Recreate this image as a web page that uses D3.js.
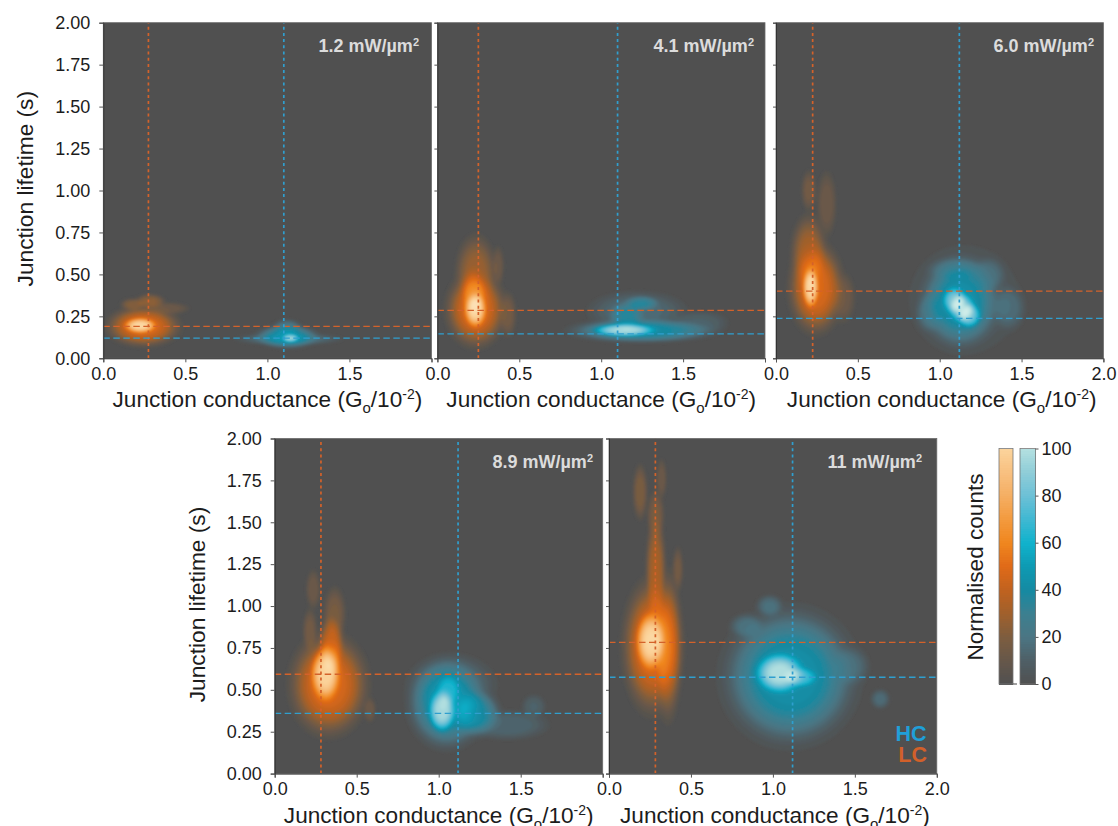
<!DOCTYPE html>
<html>
<head>
<meta charset="utf-8">
<script src="https://cdn.jsdelivr.net/npm/d3@7"></script>
<style>
  html, body { margin: 0; padding: 0; background: #fff; }
  svg { display: block; }
  text { font-family: "Liberation Sans", Arial, sans-serif; fill: #1c1c1c; }
</style>
</head>
<body>
<svg class="chart" width="1118" height="826"></svg>
<script>
// Power labels, one per panel
var powers = ['1.2', '4.1', '6.0', '8.9', '11'];

// Dashed guide lines: [conductance, lifetime]
var lcGuides = [[0.275, 0.19], [0.25, 0.286], [0.224, 0.40], [0.282, 0.593], [0.283, 0.783]];
var hcGuides = [[1.10, 0.12], [1.10, 0.146], [1.12, 0.238], [1.118, 0.36], [1.12, 0.575]];

// Density lobes: [conductance, lifetime, width, height, strength]
var lc1 = [[0.244, 0.19, 0.14, 0.075, 30], [0.225, 0.195, 0.065, 0.03, 76],
  [0.285, 0.338, 0.06, 0.03, 10], [0.18, 0.32, 0.05, 0.025, 8], [0.39, 0.297, 0.09, 0.025, 4]];
var hc1 = [[1.12, 0.13, 0.12, 0.045, 24], [1.14, 0.12, 0.035, 0.016, 60], [1.13, 0.115, 0.21, 0.025, 7],
  [1.12, 0.18, 0.06, 0.035, 9]];
var lc2 = [[0.235, 0.29, 0.115, 0.14, 30], [0.232, 0.288, 0.045, 0.07, 72], [0.235, 0.50, 0.08, 0.15, 13],
  [0.22, 0.39, 0.05, 0.10, 16], [0.37, 0.55, 0.025, 0.08, 4], [0.43, 0.26, 0.035, 0.09, 5]];
var hc2 = [[1.14, 0.168, 0.13, 0.025, 74], [1.25, 0.165, 0.28, 0.045, 23], [1.246, 0.327, 0.07, 0.03, 14],
  [1.155, 0.25, 0.07, 0.055, 14], [1.22, 0.28, 0.20, 0.08, 5], [1.6, 0.21, 0.12, 0.05, 3]];
var lc3 = [[0.245, 0.42, 0.105, 0.17, 30], [0.212, 0.42, 0.032, 0.08, 75], [0.20, 0.62, 0.07, 0.15, 15],
  [0.31, 0.92, 0.04, 0.13, 4], [0.20, 1.0, 0.03, 0.08, 5], [0.41, 0.36, 0.05, 0.10, 4]];
var hc3 = [[1.125, 0.335, 0.15, 0.17, 24], [1.09, 0.345, 0.05, 0.055, 50], [1.135, 0.30, 0.055, 0.06, 55],
  [1.18, 0.255, 0.05, 0.05, 50], [1.30, 0.50, 0.07, 0.07, 5], [1.42, 0.30, 0.07, 0.09, 5],
  [0.94, 0.27, 0.06, 0.08, 6], [1.10, 0.53, 0.12, 0.05, 6], [1.15, 0.35, 0.24, 0.23, 2]];
var lc4 = [[0.33, 0.53, 0.15, 0.19, 30], [0.31, 0.595, 0.06, 0.11, 72], [0.345, 0.76, 0.05, 0.12, 22],
  [0.365, 0.95, 0.045, 0.11, 6], [0.215, 0.85, 0.03, 0.09, 5], [0.235, 1.10, 0.03, 0.08, 4], [0.58, 0.38, 0.025, 0.05, 4]];
var hc4 = [[1.05, 0.42, 0.15, 0.17, 25], [1.22, 0.36, 0.10, 0.09, 20], [1.02, 0.375, 0.055, 0.085, 72],
  [1.06, 0.50, 0.05, 0.07, 20], [1.08, 0.53, 0.18, 0.12, 5], [1.42, 0.29, 0.17, 0.06, 4], [1.58, 0.40, 0.05, 0.05, 3]];
var lc5 = [[0.265, 0.76, 0.115, 0.25, 30], [0.36, 0.76, 0.055, 0.28, 18], [0.255, 0.79, 0.06, 0.115, 75],
  [0.285, 1.20, 0.04, 0.22, 16], [0.19, 1.68, 0.03, 0.11, 7], [0.285, 1.54, 0.035, 0.10, 6],
  [0.32, 1.76, 0.022, 0.08, 4], [0.42, 1.22, 0.022, 0.09, 5]];
var hc5 = [[1.105, 0.58, 0.25, 0.25, 24], [1.04, 0.60, 0.10, 0.08, 76], [1.17, 0.575, 0.07, 0.04, 32],
  [0.98, 1.0, 0.055, 0.045, 6], [0.84, 0.88, 0.07, 0.05, 6], [1.655, 0.445, 0.04, 0.04, 5],
  [1.47, 0.64, 0.08, 0.08, 5], [1.10, 0.58, 0.30, 0.29, 2]];
var lcLobes = [lc1, lc2, lc3, lc4, lc5];
var hcLobes = [hc1, hc2, hc3, hc4, hc5];

var xTicks = [0, 0.5, 1, 1.5, 2];
var yTicks = [0, 0.25, 0.5, 0.75, 1, 1.25, 1.5, 1.75, 2];
var barTicks = [0, 20, 40, 60, 80, 100];

// Colour ramps as seen on the colour bar, running past 100 for the white cores
var rampStops = [0, 10, 20, 30, 40, 50, 60, 70, 80, 90, 100, 125];
var lcRamp = ['#505050', '#66574a', '#7d5d3f', '#a0602c', '#c0621f', '#e06a18', '#f0861e', '#f39a3e', '#f5ae62', '#f8c080', '#fbd49c', '#fff8ea'];
var hcRamp = ['#505050', '#4f5f66', '#4b7583', '#3c7f90', '#158aa2', '#0e9ab3', '#10b2cc', '#3fb8d2', '#6cc0d6', '#8fcdd8', '#b4e0e0', '#f2fbf3'];

var lcColor = d3.scaleLinear().domain(rampStops).range(lcRamp).clamp(true);
var hcColor = d3.scaleLinear().domain(rampStops).range(hcRamp).clamp(true);

// Panel frames in pixels
var panels = [
  { left: 103.3, right: 431.5, top: 22.7, bottom: 358.3, labelRight: 419, yLabels: true, lastTick: false },
  { left: 437.4, right: 765, top: 22.7, bottom: 358.3, labelRight: 754, yLabels: false, lastTick: false },
  { left: 776, right: 1103.4, top: 22.7, bottom: 358.3, labelRight: 1094, yLabels: false, lastTick: true },
  { left: 274.7, right: 602.7, top: 438.5, bottom: 773.6, labelRight: 593, yLabels: true, lastTick: false },
  { left: 609, right: 936.8, top: 438.5, bottom: 773.6, labelRight: 922, yLabels: false, lastTick: true }
];

var chart = d3.select('.chart');
var defs = chart.append('defs');
defs.append('filter').attr('id', 'soft')
    .attr('x', '-5%').attr('y', '-5%').attr('width', '110%').attr('height', '110%')
  .append('feGaussianBlur').attr('stdDeviation', 1);

var gridX = 220, gridY = 224;
var levels = d3.range(3, 126, 3);

// Sum the lobes on a grid so d3.contours can trace the density. The power
// squeezes the sum so bodies come out as flat shoulders around a bright core.
function densityGrid(lobes) {
  var values = new Float64Array(gridX * gridY);
  for (var j = 0; j < gridY; j++) {
    var t = (j + 0.5) / gridY * 2;
    for (var i = 0; i < gridX; i++) {
      var g = (i + 0.5) / gridX * 2, sum = 0;
      lobes.forEach(function(l) {
        var a = (g - l[0]) / l[2], b = (t - l[1]) / l[3], r = a * a + b * b;
        sum += l[4] * Math.exp(-0.5 * r * r);
      });
      values[j * gridX + i] = 100 * Math.pow(sum / 100, 0.6);
    }
  }
  return values;
}

function drawDensity(group, lobes, color, x, y) {
  var path = d3.geoPath(d3.geoTransform({
    point: function(a, b) { this.stream.point(x(a / gridX * 2), y(b / gridY * 2)); }
  }));
  var contours = d3.contours().size([gridX, gridY]).thresholds(levels)(densityGrid(lobes));
  group.selectAll(null)
      .data(contours)
    .enter().append('path')
      .attr('d', path)
      .attr('fill', function(d) { return color(d.value); });
}

function conductanceTitle(sel) {
  sel.append('tspan').text('Junction conductance (G');
  sel.append('tspan').attr('dy', 6).attr('font-size', 15).text('o');
  sel.append('tspan').attr('dy', -6).text('/10');
  sel.append('tspan').attr('dy', -8).attr('font-size', 14).text('-2');
  sel.append('tspan').attr('dy', 8).text(')');
}

panels.forEach(function(p, n) {
  var x = d3.scaleLinear().domain([0, 2]).range([p.left, p.right]);
  var y = d3.scaleLinear().domain([0, 2]).range([p.bottom, p.top]);

  var panel = chart.append('g').attr('class', 'panel');

  defs.append('clipPath').attr('id', 'clip' + n)
    .append('rect')
      .attr('x', p.left).attr('y', p.top)
      .attr('width', p.right - p.left).attr('height', p.bottom - p.top);

  panel.append('rect')
      .attr('x', p.left).attr('y', p.top)
      .attr('width', p.right - p.left).attr('height', p.bottom - p.top)
      .attr('fill', '#505050');

  var blobs = panel.append('g').attr('clip-path', 'url(#clip' + n + ')')
    .append('g').attr('filter', 'url(#soft)');
  drawDensity(blobs.append('g'), hcLobes[n], hcColor, x, y);
  drawDensity(blobs.append('g'), lcLobes[n], lcColor, x, y);

  // Guides: short dashes up the page, long dashes across
  var guides = [{ g: lcGuides[n], c: '#d4622a' }, { g: hcGuides[n], c: '#2f9fcf' }];
  guides.forEach(function(d) {
    panel.append('line')
        .attr('x1', x(d.g[0])).attr('x2', x(d.g[0]))
        .attr('y1', y(0)).attr('y2', y(2))
        .attr('stroke', d.c).attr('stroke-width', 1.7).attr('stroke-dasharray', '3 3.2');
    panel.append('line')
        .attr('x1', x(0)).attr('x2', x(2))
        .attr('y1', y(d.g[1])).attr('y2', y(d.g[1]))
        .attr('stroke', d.c).attr('stroke-width', 1.3).attr('stroke-dasharray', '6.5 3.5');
  });

  panel.append('rect')
      .attr('x', p.left).attr('y', p.top)
      .attr('width', p.right - p.left).attr('height', p.bottom - p.top)
      .attr('fill', 'none').attr('stroke', '#6a6a6a').attr('stroke-width', 0.8);

  var xAxis = d3.axisBottom(x).tickValues(xTicks).tickSize(4).tickPadding(5)
      .tickFormat(function(d) { return d === 2 && !p.lastTick ? '' : d3.format('.1f')(d); });
  var yAxis = d3.axisLeft(y).tickValues(yTicks).tickSize(p.yLabels ? 4 : 3).tickPadding(9)
      .tickFormat(function(d) { return p.yLabels ? d3.format('.2f')(d) : ''; });

  var gx = panel.append('g').attr('transform', 'translate(0,' + p.bottom + ')').call(xAxis);
  var gy = panel.append('g').attr('transform', 'translate(' + p.left + ',0)').call(yAxis);
  [gx, gy].forEach(function(g) {
    g.selectAll('text').attr('font-size', 18);
    g.attr('font-family', null).attr('font-size', null);
    g.selectAll('line').attr('stroke', '#555');
    g.select('.domain').attr('stroke', '#333');
  });

  panel.append('text')
      .attr('x', (p.left + p.right) / 2 + (n === 2 || n === 4 ? 2 : 0))
      .attr('y', p.bottom + 49)
      .attr('text-anchor', 'middle')
      .attr('font-size', 22.6)
      .call(conductanceTitle);

  if (p.yLabels) {
    panel.append('text')
        .attr('transform', 'translate(' + (p.left - 70) + ',' + (p.top + 166) + ') rotate(-90)')
        .attr('text-anchor', 'middle')
        .attr('font-size', 22.7)
        .text('Junction lifetime (s)');
  }

  var label = panel.append('text')
      .attr('x', p.labelRight)
      .attr('y', p.top + 29.5)
      .attr('text-anchor', 'end')
      .attr('font-size', 18)
      .attr('font-weight', 'bold')
      .style('fill', '#dcdcdc');
  label.append('tspan').text(powers[n] + ' mW/\u00b5m');
  label.append('tspan').attr('dy', -6).attr('font-size', 11).text('2');
});

// HC / LC key, bottom right of the last panel
chart.append('text').attr('x', 926.5).attr('y', 741)
    .attr('text-anchor', 'end').attr('font-size', 21.5).attr('font-weight', 'bold')
    .style('fill', '#1f9fd8').text('HC');
chart.append('text').attr('x', 927).attr('y', 762)
    .attr('text-anchor', 'end').attr('font-size', 21.5).attr('font-weight', 'bold')
    .style('fill', '#d2602a').text('LC');

// Colour bars
var barY = d3.scaleLinear().domain([0, 100]).range([684, 448.5]);
var bars = [{ left: 999, width: 14, color: lcColor }, { left: 1020, width: 15.5, color: hcColor }];
bars.forEach(function(b) {
  var bar = chart.append('g');
  bar.selectAll('rect')
      .data(d3.range(0, 100))
    .enter().append('rect')
      .attr('x', b.left)
      .attr('y', function(d) { return barY(d + 1); })
      .attr('width', b.width)
      .attr('height', function(d) { return barY(d) - barY(d + 1) + 0.5; })
      .attr('shape-rendering', 'crispEdges')
      .attr('fill', function(d) { return b.color(d + 0.5); });
  bar.append('rect')
      .attr('x', b.left).attr('y', barY(100))
      .attr('width', b.width).attr('height', barY(0) - barY(100))
      .attr('fill', 'none').attr('stroke', '#777').attr('stroke-width', 0.8);
});
chart.append('line')
    .attr('x1', 1013).attr('x2', 1017).attr('y1', barY(0)).attr('y2', barY(0))
    .attr('stroke', '#444');

var barAxis = chart.append('g')
    .attr('transform', 'translate(1035.5,0)')
    .call(d3.axisRight(barY).tickValues(barTicks).tickSize(3).tickPadding(3));
barAxis.attr('font-family', null).attr('font-size', null);
barAxis.selectAll('text').attr('font-size', 18);
barAxis.selectAll('line').attr('stroke', '#555');
barAxis.select('.domain').remove();

chart.append('text')
    .attr('transform', 'translate(983,567) rotate(-90)')
    .attr('text-anchor', 'middle')
    .attr('font-size', 22.6)
    .text('Normalised counts');
</script>
</body>
</html>
